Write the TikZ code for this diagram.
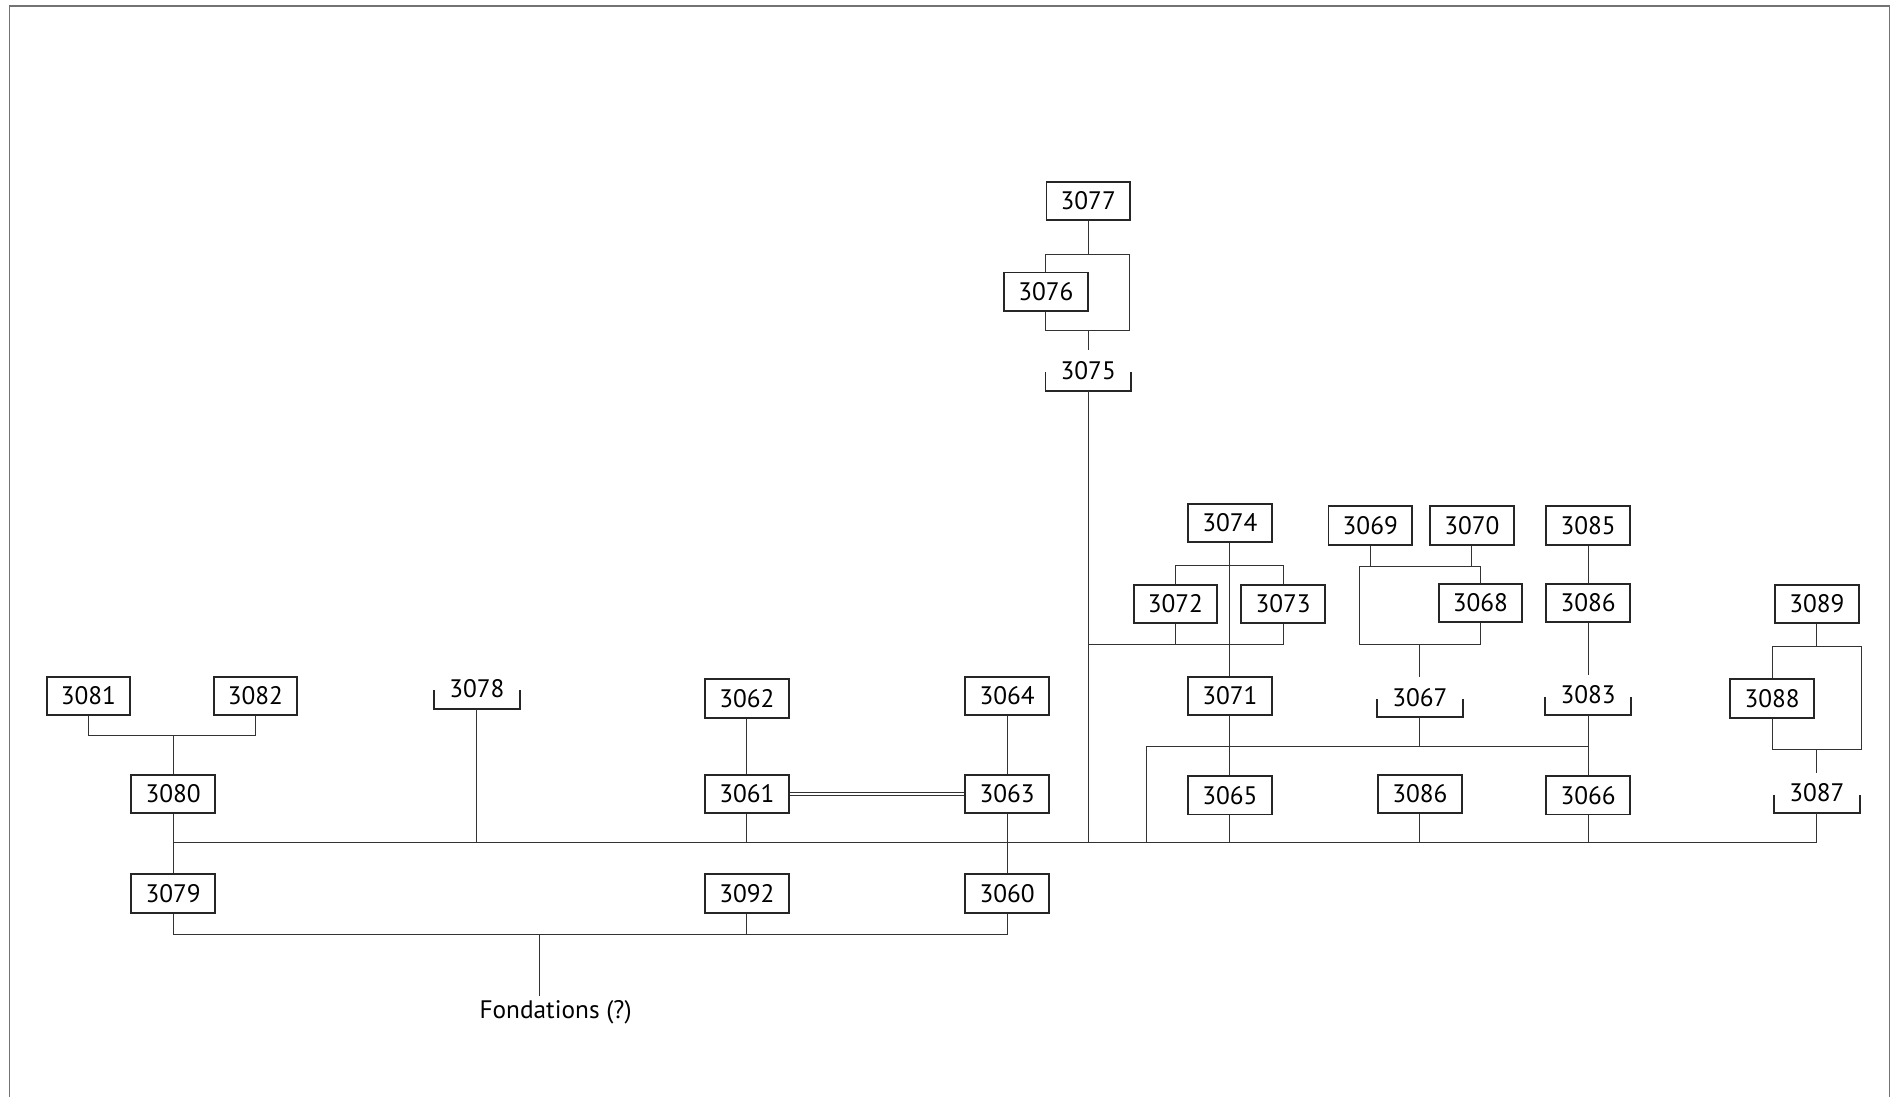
\documentclass[tikz,border=0pt]{standalone}
\usepackage{fontspec}
\setmainfont{PT Sans}
\begin{document}
\begin{tikzpicture}[x=0.02421cm, y=-0.02421cm,
    font=\fontsize{14.4}{17}\selectfont,
    unitbox/.style={draw=black!85, line width=1.1pt, minimum width=1.67cm, minimum height=0.77cm, inner sep=0pt},
    unitbrk/.style={unitbox, draw=none},
    brk/.style={draw=black!85, line width=1.1pt},
    link/.style={draw=black!80, line width=0.6pt},
    pageframe/.style={draw=black!55, line width=0.9pt}]
    \useasboundingbox (0,0) rectangle (1568,906);
    \draw[pageframe] (8,930) -- (8,5) -- (1561,5) -- (1561,930);

    \node[unitbox] (b3077) at (899,166) {3077};
    \node[unitbox] (b3076) at (864,241) {3076};
    \node[unitbrk] (k3075) at (899,306) {3075};

    \node[unitbox] (b3074) at (1016,432) {3074};
    \node[unitbox] (b3072) at (971,499) {3072};
    \node[unitbox] (b3073) at (1060,499) {3073};
    \node[unitbox] (b3071) at (1016,575) {3071};
    \node[unitbox] (b3065) at (1016,657) {3065};

    \node[unitbox] (b3069) at (1132,434) {3069};
    \node[unitbox] (b3070) at (1216,434) {3070};
    \node[unitbox] (b3068) at (1223,498) {3068};
    \node[unitbrk] (k3067) at (1173,576) {3067};
    \node[unitbox] (b3086b) at (1173,656) {3086};

    \node[unitbox] (b3085) at (1312,434) {3085};
    \node[unitbox] (b3086a) at (1312,498) {3086};
    \node[unitbrk] (k3083) at (1312,574) {3083};
    \node[unitbox] (b3066) at (1312,657) {3066};

    \node[unitbox] (b3089) at (1501,499) {3089};
    \node[unitbox] (b3088) at (1464,577) {3088};
    \node[unitbrk] (k3087) at (1501,655) {3087};

    \node[unitbox] (b3081) at (73,575) {3081};
    \node[unitbox] (b3082) at (211,575) {3082};
    \node[unitbox] (b3080) at (143,656) {3080};
    \node[unitbox] (b3079) at (143,738) {3079};
    \node[unitbrk] (k3078) at (394,569) {3078};

    \node[unitbox] (b3062) at (617,577) {3062};
    \node[unitbox] (b3061) at (617,656) {3061};
    \node[unitbox] (b3092) at (617,738) {3092};
    \node[unitbox] (b3064) at (832,575) {3064};
    \node[unitbox] (b3063) at (832,656) {3063};
    \node[unitbox] (b3060) at (832,738) {3060};
    \node[inner sep=2pt] (fond) at (459,836) {Fondations (?)};

    \foreach \k in {k3075,k3078,k3067,k3083,k3087}
        \draw[brk] ([yshift=0.37cm]\k.south west) -- (\k.south west) -- (\k.south east) -- ([yshift=0.37cm]\k.south east);

    \coordinate (mb) at (0,696);
    \coordinate (bb) at (0,772);
    \draw[link] (b3080 |- mb) -- (k3087 |- mb);
    \draw[link] (b3079.south) |- (b3060.south |- bb) -- (b3060.south);

    \coordinate (h80) at (143,608);
    \draw[link] (b3081.south) |- (h80) -| (b3082.south);
    \draw[link] (h80) -- (b3080);
    \draw[link] (b3080) -- (b3079);
    \draw[link] (k3078) -- (k3078 |- mb);
    \draw[link] (b3062) -- (b3061);
    \draw[link] (b3061) -- (b3061 |- mb);
    \draw[link, double, double distance=0.05cm] (b3061) -- (b3063);
    \draw[link] (b3064) -- (b3063);
    \draw[link] (b3063) -- (b3060);
    \draw[link] (b3092) -- (b3092 |- bb);
    \coordinate (fj) at (446,772);
    \draw[link] (fj) -- (fj |- fond.north);

    \coordinate (h77) at (933,210);
    \coordinate (h76) at (933,273);
    \draw[link] (b3077) -- (b3077 |- h77);
    \draw[link] (b3076.north) |- (h77) -- (h76) -| (b3076.south);
    \draw[link] (k3075 |- h76) -- (k3075.north);
    \draw[link] (k3075) -- (k3075 |- mb);

    \coordinate (h74) at (1016,467);
    \coordinate (h72) at (899,532.4);
    \draw[link] (b3074) -- (b3071);
    \draw[link] (b3072.north) |- (h74) -| (b3073.north);
    \draw[link] (h72) -| (b3073.south);
    \draw[link] (b3072) -- (b3072 |- h72);
    \draw[link] (b3071) -- (b3065);
    \draw[link] (b3065) -- (b3065 |- mb);

    \coordinate (h69) at (1123,468);
    \coordinate (h68) at (1123,532.4);
    \draw[link] (b3069) -- (b3069 |- h69);
    \draw[link] (b3070) -- (b3070 |- h69);
    \draw[link] (b3068.north) |- (h69) -- (h68) -| (b3068.south);
    \draw[link] (k3067 |- h68) -- (k3067.north);
    \coordinate (h65) at (947,617);
    \draw[link] (h65 |- mb) |- (b3066 |- h65);
    \draw[link] (k3067) -- (k3067 |- h65);
    \draw[link] (b3086b) -- (b3086b |- mb);

    \draw[link] (b3085) -- (b3086a);
    \draw[link] (b3086a) -- (k3083.north);
    \draw[link] (k3083) -- (b3066);
    \draw[link] (b3066) -- (b3066 |- mb);

    \coordinate (h89) at (1538,534);
    \coordinate (h88) at (1538,619);
    \draw[link] (b3089) -- (b3089 |- h89);
    \draw[link] (b3088.north) |- (h89) -- (h88) -| (b3088.south);
    \draw[link] (k3087 |- h88) -- (k3087.north);
    \draw[link] (k3087) -- (k3087 |- mb);
\end{tikzpicture}
\end{document}
